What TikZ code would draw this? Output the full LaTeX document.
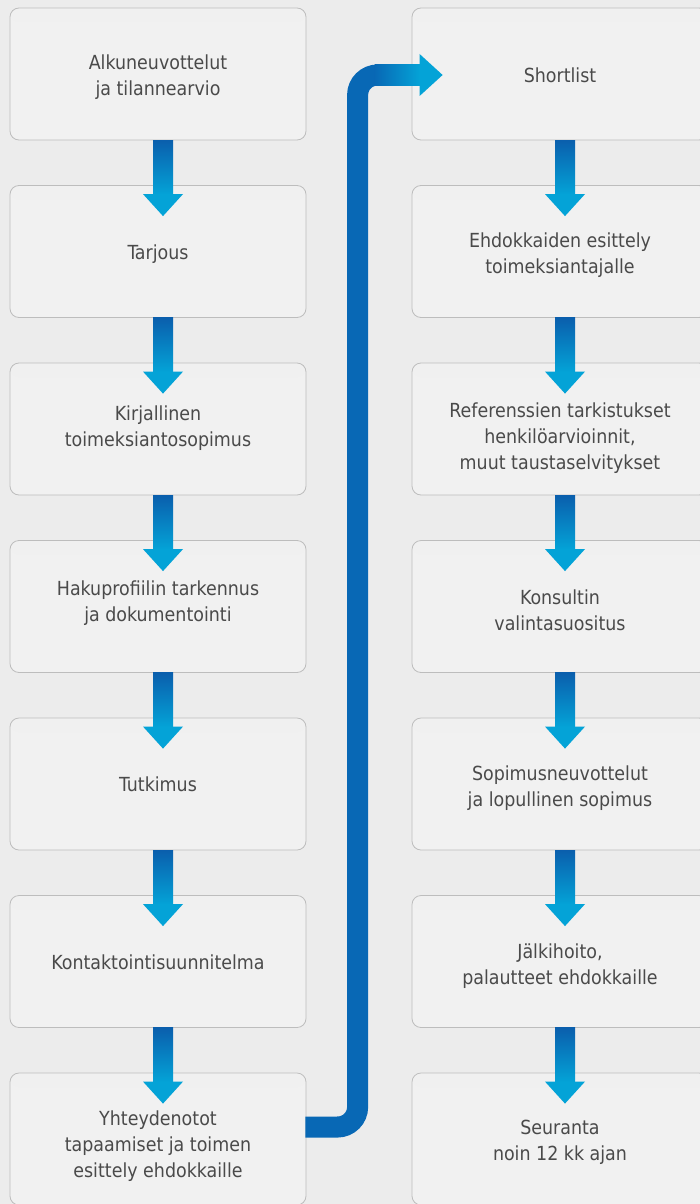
\documentclass[tikz,border=0pt]{standalone}
\usepackage{fontspec}
\setmainfont{DejaVu Sans Condensed}
\usetikzlibrary{calc}
\definecolor{bg}{HTML}{ECECEC}
\definecolor{boxfill}{HTML}{F1F1F1}
\definecolor{boxline}{HTML}{BDBDBD}
\definecolor{txt}{HTML}{4A4A4A}
\definecolor{adark}{HTML}{0A5FAD}
\definecolor{alight}{HTML}{04A3D7}
\definecolor{conn}{HTML}{0868B5}
\newcommand\flowarrow[2]{%
  \shade[top color=adark, bottom color=alight]
    ($(#1.south)+(-5,0)$) rectangle ($(#2.north)+(15,9.5)$);
  \fill[alight] ($(#2.north)+(-15,9)$) -- ($(#2.north)+(25,9)$) -- ($(#2.north)+(5,31)$) -- cycle;
}
\begin{document}
\begin{tikzpicture}[x=1pt,y=-1pt,
  stepbox/.style={draw=boxline, line width=0.8pt, fill=boxfill, rounded corners=9pt,
    minimum width=296pt, minimum height=132pt, inner sep=0pt,
    path picture={\shade[top color=black!6, bottom color=boxfill]
      (path picture bounding box.north west) rectangle ($(path picture bounding box.north east)+(0,14)$);}},
  steptext/.style={inner sep=0pt, align=center, text=txt,
    font=\fontsize{19.4}{26}\selectfont, text depth=0pt},
]
\fill[bg] (0,0) rectangle (700,1204);
\useasboundingbox (0,0) rectangle (700,1204);
\clip (0,0) rectangle (700,1204);
% left column boxes
\node[stepbox] (l1) at (158,74) {};
\node[stepbox] (l2) at (158,251.5) {};
\node[stepbox] (l3) at (158,429) {};
\node[stepbox] (l4) at (158,606.5) {};
\node[stepbox] (l5) at (158,784) {};
\node[stepbox] (l6) at (158,961.5) {};
\node[stepbox] (l7) at (158,1139) {};
% right column boxes
\node[stepbox] (r1) at (560,74) {};
\node[stepbox] (r2) at (560,251.5) {};
\node[stepbox] (r3) at (560,429) {};
\node[stepbox] (r4) at (560,606.5) {};
\node[stepbox] (r5) at (560,784) {};
\node[stepbox] (r6) at (560,961.5) {};
\node[stepbox] (r7) at (560,1139) {};
% texts
\node[steptext] (l1t) at ($(l1.center)+(0,1)$) {Alkuneuvottelut\\ja tilannearvio};
\node[steptext] (l2t) at ($(l2.center)+(0,1)$) {Tarjous};
\node[steptext] (l3t) at ($(l3.center)+(0,-2.5)$) {Kirjallinen\\toimeksiantosopimus};
\node[steptext] (l4t) at ($(l4.center)+(0,-5.5)$) {Hakuprofiilin tarkennus\\ja dokumentointi};
\node[steptext] (l5t) at ($(l5.center)+(0,0)$) {Tutkimus};
\node[steptext] (l6t) at ($(l6.center)+(0,1)$) {Kontaktointisuunnitelma};
\node[steptext] (l7t) at ($(l7.center)+(0,5)$) {Yhteydenotot\\tapaamiset ja toimen\\esittely ehdokkaille};
\node[steptext] (r1t) at ($(r1.center)+(0,1)$) {Shortlist};
\node[steptext] (r2t) at ($(r2.center)+(0,2)$) {Ehdokkaiden esittely\\toimeksiantajalle};
\node[steptext] (r3t) at ($(r3.center)+(0,7)$) {Referenssien tarkistukset\\henkilöarvioinnit,\\muut taustaselvitykset};
\node[steptext] (r4t) at ($(r4.center)+(0,3.5)$) {Konsultin\\valintasuositus};
\node[steptext] (r5t) at ($(r5.center)+(0,2.5)$) {Sopimusneuvottelut\\ja lopullinen sopimus};
\node[steptext] (r6t) at ($(r6.center)+(0,2.5)$) {Jälkihoito,\\palautteet ehdokkaille};
\node[steptext] (r7t) at ($(r7.center)+(0,1)$) {Seuranta\\noin 12 kk ajan};
% arrows
\flowarrow{l1}{l2}\flowarrow{l2}{l3}\flowarrow{l3}{l4}\flowarrow{l4}{l5}\flowarrow{l5}{l6}\flowarrow{l6}{l7}
\flowarrow{r1}{r2}\flowarrow{r2}{r3}\flowarrow{r3}{r4}\flowarrow{r4}{r5}\flowarrow{r5}{r6}\flowarrow{r6}{r7}
% connector
\coordinate (c0) at ($(l7.east)+(-1,-12)$);
\coordinate (c1) at ($(r1.west)+(8,1)$);
\coordinate (cv) at ($(c1)+(-62,0)$);
\draw[conn, line width=21pt, rounded corners=20pt] (c0) -| (cv) -- (c1);
\shade[left color=conn, right color=alight] ($(c1)+(-45,-10.5)$) rectangle ($(c1)+(0.5,10.5)$);
\fill[alight] ($(c1)+(0,-21)$) -- ($(c1)+(23,0)$) -- ($(c1)+(0,21)$) -- cycle;
\end{tikzpicture}
\end{document}
